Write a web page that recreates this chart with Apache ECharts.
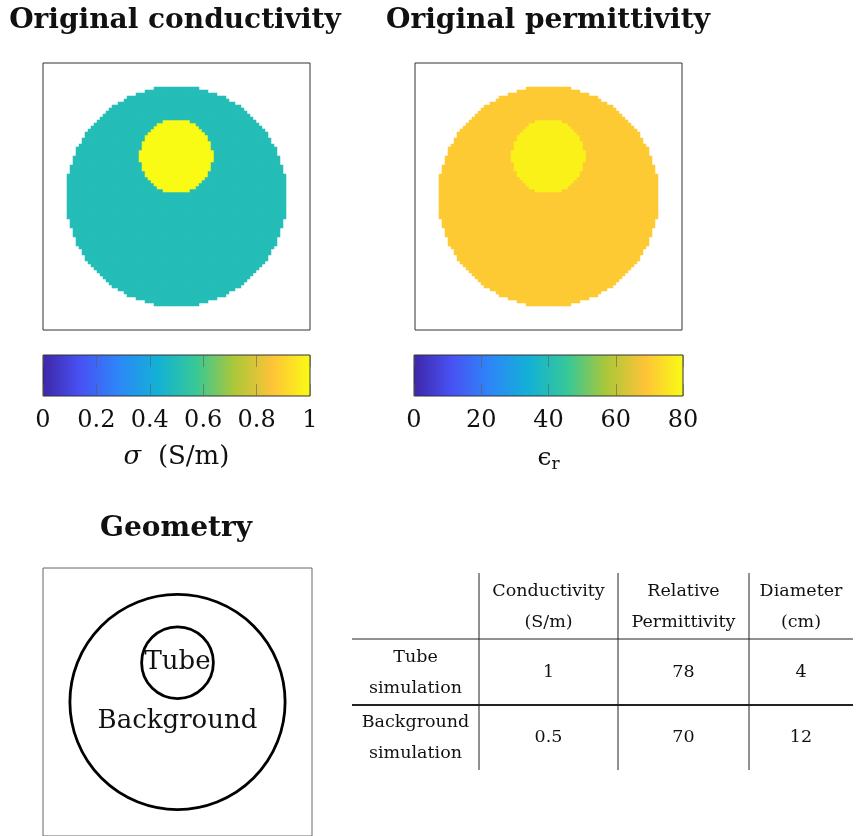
<!DOCTYPE html>
<html><head><meta charset="utf-8">
<script src="https://cdn.jsdelivr.net/npm/echarts@6/dist/echarts.min.js"></script>
<style>html,body{margin:0;padding:0;background:#fff}#c{width:857px;height:836px}</style>
</head><body><div id="c"></div>
<script>
// ---------------- data ----------------
const parula = ['#3e26a8','#4852f4','#2d87f7','#12b1d6','#37c897','#abc739','#fec338','#f9fb14'];
const regionNames = ['Background', 'Tube'];
const conductivity = [0.5, 1];        // S/m   (background, tube)
const permittivity = [70, 78];        // eps_r (background, tube)
const diameters = [12, 4];            // cm    (background, tube)
const centers = [[0, 0], [0, 2.2]];   // cm    (background, tube)
const sigmaRange = [0, 1];
const epsRange = [0, 80];
const sigmaTickStep = 0.2;
const epsTickStep = 20;
const tableHeader = [['', ''], ['Conductivity', '(S/m)'], ['Relative', 'Permittivity'], ['Diameter', '(cm)']];
const tableRowLabels = [['Tube', 'simulation'], ['Background', 'simulation']];
const tableRowOrder = [1, 0];  // tube row, then background row

// ---------------- layout ----------------
const FONT = 'DejaVu Serif';
const FOV = 14.56;   // cm shown in the image maps
const N = 89;        // pixels of the image maps
const GEO_FOV = 15;  // cm shown in geometry panel
const bgLabelAt = [0, -1.1];

const cats = Array.from({length: N}, (_, i) => i);
function buildMap(vals) {
  const out = [];
  for (let j = 0; j < N; j++) for (let i = 0; i < N; i++) {
    const x = -FOV / 2 + (i + 0.5) * FOV / N, y = -FOV / 2 + (j + 0.5) * FOV / N;
    let v = null;
    for (let k = 0; k < centers.length; k++) {
      const dx = x - centers[k][0], dy = y - centers[k][1], r = diameters[k] / 2;
      if (dx * dx + dy * dy <= r * r) v = vals[k];
    }
    if (v !== null) out.push([i, j, v]);
  }
  return out;
}

const grids = [
  {left: 43, top: 63, width: 267, height: 267, show: true, borderColor: '#333', borderWidth: 1, backgroundColor: '#fff'},
  {left: 415, top: 63, width: 267, height: 267, show: true, borderColor: '#333', borderWidth: 1, backgroundColor: '#fff'},
  {left: 43, top: 355, width: 267, height: 41},
  {left: 414, top: 355, width: 269, height: 41},
  {left: 43, top: 568, width: 269, height: 269, show: true, borderColor: '#666', borderWidth: 1}
];

const tickStyle = {show: true, inside: true, length: 12, lineStyle: {color: 'rgba(90,90,90,0.55)', width: 1}};
function cbAxis(gi, range, step, nameText, rich) {
  return {
    gridIndex: gi, type: 'value', min: range[0], max: range[1], interval: step, z: 10,
    axisLine: {show: false}, splitLine: {show: false},
    axisTick: tickStyle,
    axisLabel: {fontFamily: FONT, fontSize: 24, color: '#111', margin: 13},
    name: nameText, nameLocation: 'middle', nameGap: 48,
    nameTextStyle: {fontFamily: FONT, fontSize: 25, color: '#111', rich: rich}
  };
}
function cbTopAxis(gi, range, step) {
  return {gridIndex: gi, type: 'value', position: 'top', min: range[0], max: range[1], interval: step, z: 10,
    axisLine: {show: false}, splitLine: {show: false}, axisTick: tickStyle, axisLabel: {show: false}};
}

const xAxes = [
  {gridIndex: 0, type: 'category', data: cats, show: false},
  {gridIndex: 1, type: 'category', data: cats, show: false},
  cbAxis(2, sigmaRange, sigmaTickStep, '{g|σ}{t|  (S/m)}',
    {g: {fontFamily: FONT, fontSize: 26, fontStyle: 'italic', color: '#111'}, t: {fontFamily: FONT, fontSize: 26, color: '#111'}}),
  cbAxis(3, epsRange, epsTickStep, '{e|ϵ}{s|r}',
    {e: {fontFamily: FONT, fontSize: 25, color: '#111'}, s: {fontFamily: FONT, fontSize: 17, color: '#111', padding: [12, 0, 0, 0]}}),
  {gridIndex: 4, type: 'value', min: -GEO_FOV / 2, max: GEO_FOV / 2, show: false},
  cbTopAxis(2, sigmaRange, sigmaTickStep),
  cbTopAxis(3, epsRange, epsTickStep)
];
const yAxes = [
  {gridIndex: 0, type: 'category', data: cats, show: false},
  {gridIndex: 1, type: 'category', data: cats, show: false},
  {gridIndex: 2, type: 'value', min: 0, max: 1, show: false},
  {gridIndex: 3, type: 'value', min: 0, max: 1, show: false},
  {gridIndex: 4, type: 'value', min: -GEO_FOV / 2, max: GEO_FOV / 2, show: false}
];

function gradient() {
  return new echarts.graphic.LinearGradient(0, 0, 1, 0,
    parula.map((c, i) => ({offset: i / (parula.length - 1), color: c})));
}
function colorbarSeries(gi, range) {
  return {
    type: 'custom', xAxisIndex: gi, yAxisIndex: gi, data: [[range[0], 0]], silent: true, z: 2,
    renderItem: (params, api) => {
      const a = api.coord([range[0], 1]), b = api.coord([range[1], 0]);
      return {type: 'rect', shape: {x: a[0], y: a[1], width: b[0] - a[0], height: b[1] - a[1]},
        style: {fill: gradient(), stroke: '#333', lineWidth: 1}};
    }
  };
}

const series = [
  {type: 'heatmap', xAxisIndex: 0, yAxisIndex: 0, data: buildMap(conductivity), progressive: 0,
   itemStyle: {borderWidth: 0}, emphasis: {disabled: true}},
  {type: 'heatmap', xAxisIndex: 1, yAxisIndex: 1, data: buildMap(permittivity), progressive: 0,
   itemStyle: {borderWidth: 0}, emphasis: {disabled: true}},
  colorbarSeries(2, sigmaRange),
  colorbarSeries(3, epsRange),
  {type: 'custom', xAxisIndex: 4, yAxisIndex: 4, silent: true,
   data: centers.map((c, k) => [c[0], c[1], diameters[k] / 2]),
   renderItem: (params, api) => {
     const p = api.coord([api.value(0), api.value(1)]);
     const r = api.size([api.value(2), 0])[0];
     return {type: 'circle', shape: {cx: p[0], cy: p[1], r: r},
       style: {fill: 'none', stroke: '#000', lineWidth: 2.8}};
   }},
  {type: 'custom', xAxisIndex: 4, yAxisIndex: 4, silent: true,
   data: [[centers[1][0], centers[1][1], 1], [bgLabelAt[0], bgLabelAt[1], 0]],
   renderItem: (params, api) => {
     const p = api.coord([api.value(0), api.value(1)]);
     return {type: 'text', x: p[0], y: p[1],
       style: {text: regionNames[api.value(2)], fontFamily: FONT, fontSize: 26, fill: '#111',
               align: 'center', verticalAlign: 'middle'}};
   }}
];

// ---------------- table (graphic) ----------------
const colEdges = [352, 479, 618, 749, 853];
const hLines = [639, 705];
const vTop = 573, vBottom = 770;
const headerY = [591, 622];
const rowY = [[657, 688, 672], [722, 753, 737]];
const g = [];
const TXT = (t, x, y) => ({type: 'text', x: x, y: y,
  style: {text: t, fontFamily: FONT, fontSize: 17.5, fill: '#111', align: 'center', verticalAlign: 'middle'}});
for (let c = 1; c < 4; c++) g.push({type: 'line', shape: {x1: colEdges[c], y1: vTop, x2: colEdges[c], y2: vBottom}, style: {stroke: '#222', lineWidth: 1}});
g.push({type: 'line', shape: {x1: colEdges[0], y1: hLines[0], x2: colEdges[4], y2: hLines[0]}, style: {stroke: '#222', lineWidth: 1}});
g.push({type: 'line', shape: {x1: colEdges[0], y1: hLines[1], x2: colEdges[4], y2: hLines[1]}, style: {stroke: '#222', lineWidth: 2}});
const colMid = c => (colEdges[c] + colEdges[c + 1]) / 2;
tableHeader.forEach((h, c) => { if (h[0]) { g.push(TXT(h[0], colMid(c), headerY[0])); g.push(TXT(h[1], colMid(c), headerY[1])); } });
tableRowOrder.forEach((k, r) => {
  g.push(TXT(tableRowLabels[r][0], colMid(0), rowY[r][0]));
  g.push(TXT(tableRowLabels[r][1], colMid(0), rowY[r][1]));
  g.push(TXT(String(conductivity[k]), colMid(1), rowY[r][2]));
  g.push(TXT(String(permittivity[k]), colMid(2), rowY[r][2]));
  g.push(TXT(String(diameters[k]), colMid(3), rowY[r][2]));
});

const titleStyle = {fontFamily: FONT, fontSize: 28, fontWeight: 'bold', color: '#111'};
const option = {
  animation: false,
  backgroundColor: '#fff',
  title: [
    {text: 'Original conductivity', left: 170, top: 2, textAlign: 'center', textStyle: titleStyle},
    {text: 'Original permittivity', left: 543, top: 2, textAlign: 'center', textStyle: titleStyle},
    {text: 'Geometry', left: 171, top: 510, textAlign: 'center', textStyle: titleStyle}
  ],
  visualMap: [
    {type: 'continuous', min: sigmaRange[0], max: sigmaRange[1], seriesIndex: 0, show: false, inRange: {color: parula}},
    {type: 'continuous', min: epsRange[0], max: epsRange[1], seriesIndex: 1, show: false, inRange: {color: parula}}
  ],
  grid: grids,
  xAxis: xAxes,
  yAxis: yAxes,
  series: series,
  graphic: g
};
const chart = echarts.init(document.getElementById('c'), null, {renderer: 'canvas'});
chart.setOption(option);
</script>
</body></html>
